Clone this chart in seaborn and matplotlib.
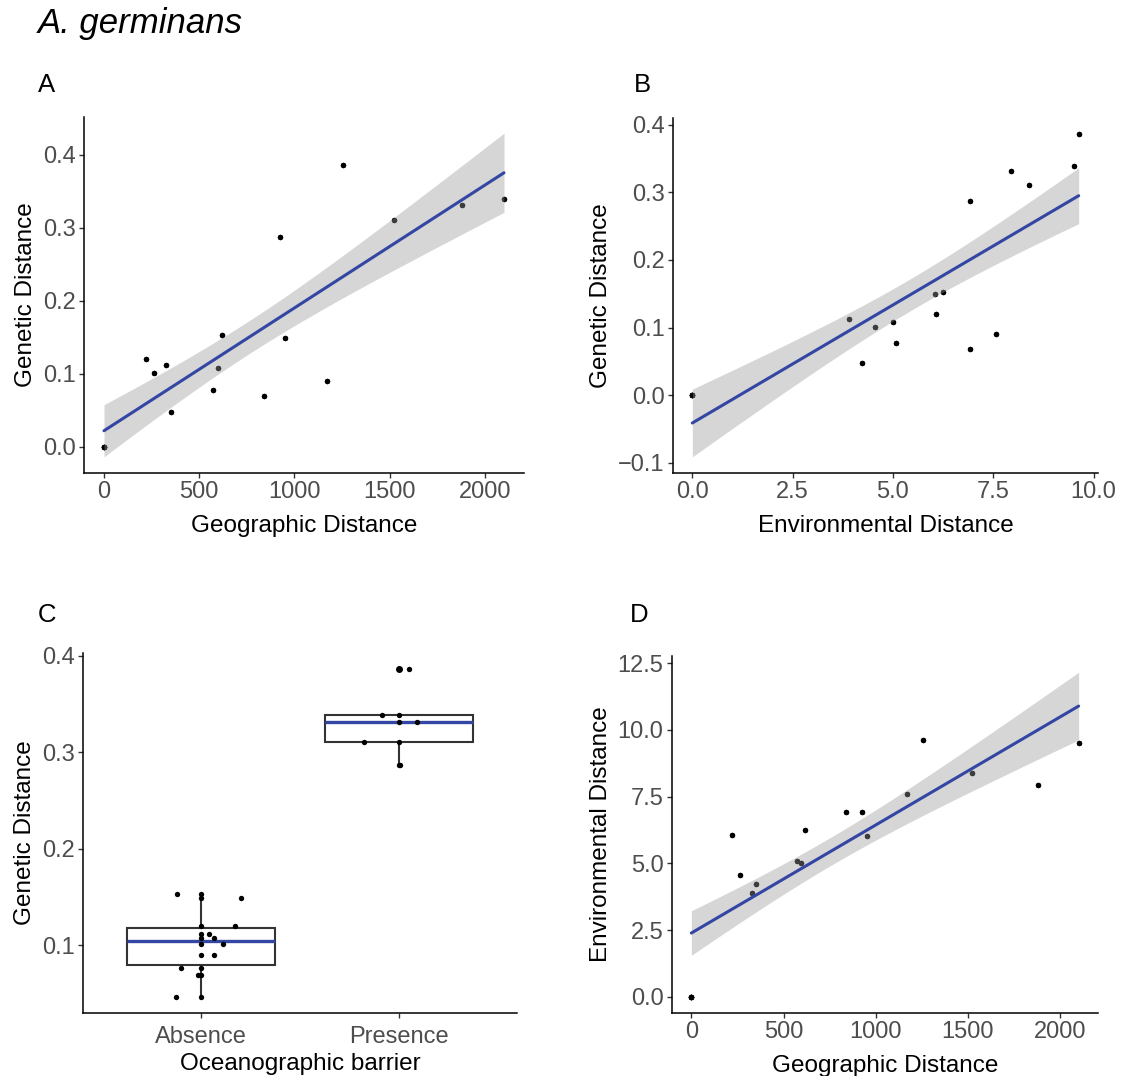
import numpy as np
import pandas as pd
import matplotlib
matplotlib.use("Agg")
import matplotlib.pyplot as plt
import seaborn as sns

# pairwise distances between the 6 populations
geo_dist = [218, 265, 327, 350, 572, 597, 618, 840, 925, 950, 1170, 1256, 1522, 1879, 2100]
env_dist = [6.07, 4.56, 3.90, 4.22, 5.08, 5.01, 6.25, 6.92, 6.91, 6.04, 7.58, 9.63, 8.38, 7.95, 9.51]
gen_dist = [0.120, 0.101, 0.112, 0.047, 0.077, 0.108, 0.153, 0.069, 0.287,
            0.149, 0.090, 0.386, 0.311, 0.332, 0.339]
n_pops = 6

barrier = ["Absence", "Absence", "Absence", "Absence", "Absence", "Absence", "Absence",
           "Absence", "Presence", "Absence", "Absence", "Presence", "Presence",
           "Presence", "Presence"]
jitter_off = [0.172, 0.111, 0.039, -0.130, -0.103, 0.062, -0.123, -0.019, 0.008,
              0.199, 0.066, 0.051, -0.177, 0.093, -0.086]
barrier_levels = ["Absence", "Presence"]

BLUE = "#3346A3"
T_CRIT = 2.032  # t(0.975, df=34), full 6x6 matrix

# full distance matrix as long table: diagonal zeros + both triangles
full = pd.DataFrame({
    "geo": [0] * n_pops + geo_dist * 2,
    "env": [0] * n_pops + env_dist * 2,
    "gen": [0] * n_pops + gen_dist * 2,
})

sns.set_theme(style="ticks")
plt.rcParams["font.family"] = ["Liberation Sans", "DejaVu Sans"]
plt.rcParams["text.color"] = "black"
plt.rcParams["axes.labelcolor"] = "black"
plt.rcParams["axes.edgecolor"] = "black"
plt.rcParams["axes.linewidth"] = 1.1
plt.rcParams["xtick.major.width"] = 1.0
plt.rcParams["ytick.major.width"] = 1.0
plt.rcParams["xtick.major.size"] = 3.6
plt.rcParams["ytick.major.size"] = 3.6
plt.rcParams["xtick.major.pad"] = 2.5
plt.rcParams["ytick.major.pad"] = 2.5
plt.rcParams["xtick.color"] = "#333333"
plt.rcParams["ytick.color"] = "#333333"
plt.rcParams["xtick.labelcolor"] = "#4D4D4D"
plt.rcParams["ytick.labelcolor"] = "#4D4D4D"
plt.rcParams["xtick.labelsize"] = 17
plt.rcParams["ytick.labelsize"] = 17
plt.rcParams["axes.labelsize"] = 17.5

W, H = 1122, 1076
fig = plt.figure(figsize=(W / 100, H / 100), dpi=100)


def box(l, t, r, b):
    return [l / W, 1 - b / H, (r - l) / W, (b - t) / H]


def lm_panel(ax, xcol, ycol, xlabel, ylabel):
    x = full[xcol].to_numpy(float)
    y = full[ycol].to_numpy(float)
    slope, icpt = np.polyfit(x, y, 1)
    xs = np.linspace(x.min(), x.max(), 80)
    fit = icpt + slope * xs
    resid = y - (icpt + slope * x)
    s = np.sqrt((resid ** 2).sum() / (len(x) - 2))
    se = s * np.sqrt(1 / len(x) + (xs - x.mean()) ** 2 / ((x - x.mean()) ** 2).sum())
    sns.scatterplot(data=full, x=xcol, y=ycol, ax=ax, color="black", s=15,
                    linewidth=0, zorder=2)
    ax.fill_between(xs, fit - T_CRIT * se, fit + T_CRIT * se, color="#999999",
                    alpha=0.4, linewidth=0, zorder=3)
    sns.lineplot(x=xs, y=fit, ax=ax, color=BLUE, linewidth=2.2, zorder=4)
    ax.set_xlabel(xlabel, labelpad=8)
    ax.set_ylabel(ylabel, labelpad=4)
    sns.despine(ax=ax)


axA = fig.add_axes(box(84, 117, 524, 473))
lm_panel(axA, "geo", "gen", "Geographic Distance", "Genetic Distance")
axA.set_xticks([0, 500, 1000, 1500, 2000])
axA.set_yticks([0.0, 0.1, 0.2, 0.3, 0.4])
axA.set_yticklabels(["0.0", "0.1", "0.2", "0.3", "0.4"])

axB = fig.add_axes(box(673, 118, 1098, 473))
lm_panel(axB, "env", "gen", "Environmental Distance", "Genetic Distance")
axB.set_xticks([0.0, 2.5, 5.0, 7.5, 10.0])
axB.set_xticklabels(["0.0", "2.5", "5.0", "7.5", "10.0"])
axB.set_yticks([-0.1, 0.0, 0.1, 0.2, 0.3, 0.4])
axB.set_yticklabels(["\u22120.1", "0.0", "0.1", "0.2", "0.3", "0.4"])

axD = fig.add_axes(box(672, 656, 1098, 1013))
lm_panel(axD, "geo", "env", "Geographic Distance", "Environmental Distance")
axD.set_xticks([0, 500, 1000, 1500, 2000])
axD.set_yticks([0.0, 2.5, 5.0, 7.5, 10.0, 12.5])
axD.set_yticklabels(["0.0", "2.5", "5.0", "7.5", "10.0", "12.5"])

# panel C: boxplot with centred and jittered points (one row per pair)
dfc = pd.DataFrame({"barrier": barrier, "gen": gen_dist, "off": jitter_off})
dfc["pos"] = dfc["barrier"].map({k: i for i, k in enumerate(barrier_levels)})

axC = fig.add_axes(box(83, 653, 517, 1013))
sns.boxplot(data=dfc, x="barrier", y="gen", order=barrier_levels, ax=axC,
            color="white", linecolor="#333333", linewidth=1.5, width=0.75,
            showcaps=False,
            medianprops={"color": BLUE, "linewidth": 2.4},
            flierprops={"marker": "o", "markerfacecolor": "black",
                        "markeredgecolor": "black", "markersize": 4})
sns.scatterplot(x=dfc["pos"], y=dfc["gen"], ax=axC, color="black", s=15,
                linewidth=0, zorder=5)
sns.scatterplot(x=dfc["pos"] + dfc["off"], y=dfc["gen"], ax=axC, color="black",
                s=15, linewidth=0, zorder=5)
axC.set_xlim(-0.6, 1.6)
axC.set_ylim(0.030, 0.403)
axC.set_yticks([0.1, 0.2, 0.3, 0.4])
axC.set_yticklabels(["0.1", "0.2", "0.3", "0.4"])
axC.tick_params(axis="x", pad=5.5)
axC.set_xlabel("Oceanographic barrier", labelpad=4)
axC.set_ylabel("Genetic Distance", labelpad=4)
sns.despine(ax=axC)

fig.text(38 / W, 1 - 33 / H, "A. germinans", fontsize=25, style="italic",
         color="black", va="baseline", ha="left")
for tag, x, y in [("A", 38, 92), ("B", 634, 92), ("C", 38, 622), ("D", 630, 622)]:
    fig.text(x / W, 1 - y / H, tag, fontsize=18.5, color="black",
             va="baseline", ha="left")

fig.savefig("out.png", dpi=100)
